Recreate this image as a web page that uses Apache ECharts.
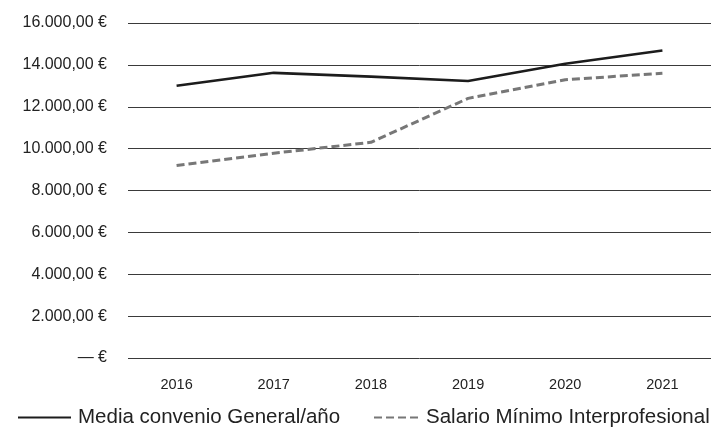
<!DOCTYPE html>
<html><head><meta charset="utf-8">
<script src="https://cdn.jsdelivr.net/npm/echarts@6/dist/echarts.min.js"></script>
<style>html,body{margin:0;padding:0;background:#fff}#c{width:713px;height:433px}</style>
</head><body><div id="c"></div>
<script>
var categories = ['2016','2017','2018','2019','2020','2021'];
var mediaConvenio = [13000, 13620, 13440, 13230, 14050, 14690];
var salarioMinimo = [9190, 9780, 10300, 12400, 13290, 13600];
var yTickValues = [0, 2000, 4000, 6000, 8000, 10000, 12000, 14000, 16000];
var yTickLabels = ['— €', '2.000,00 €', '4.000,00 €', '6.000,00 €', '8.000,00 €', '10.000,00 €', '12.000,00 €', '14.000,00 €', '16.000,00 €'];
var seriesNames = ['Media convenio General/año', 'Salario Mínimo Interprofesional'];

var FONT = '"Liberation Sans", Arial, Helvetica, sans-serif';
var chart = echarts.init(document.getElementById('c'), null, {renderer: 'canvas'});
var legendBase = {top: 402, itemHeight: 14, itemGap: 0,
  itemStyle: {color: 'transparent', borderWidth: 0},
  textStyle: {fontFamily: FONT, fontSize: 20.5, color: '#222', padding: [0, 0, 0, 2]}};
chart.setOption({
  animation: false,
  backgroundColor: '#fff',
  grid: {left: 128, right: 2, top: 23, bottom: 75, containLabel: false},
  legend: [
    Object.assign({}, legendBase, {data: [seriesNames[0]], left: 12, itemWidth: 53}),
    Object.assign({}, legendBase, {data: [seriesNames[1]], left: 368, itemWidth: 45})
  ],
  xAxis: {
    type: 'category', data: categories, boundaryGap: true,
    axisLine: {show: false}, axisTick: {show: false},
    axisLabel: {fontFamily: FONT, fontSize: 14.5, color: '#222', margin: 19}
  },
  yAxis: {
    type: 'value', min: 0, max: 16000, interval: 2000,
    axisLine: {show: false}, axisTick: {show: false},
    splitLine: {lineStyle: {color: '#3a3a3a', width: 1}},
    axisLabel: {fontFamily: FONT, fontSize: 16, color: '#222', margin: 21,
      formatter: function (v) { var i = yTickValues.indexOf(v); return i >= 0 ? yTickLabels[i] : ''; }}
  },
  series: [
    {name: seriesNames[0], type: 'line', data: mediaConvenio, symbol: 'none',
     lineStyle: {color: '#1c1c1c', width: 2.6}, itemStyle: {color: '#1c1c1c'}},
    {name: seriesNames[1], type: 'line', data: salarioMinimo, symbol: 'none',
     lineStyle: {color: '#777777', width: 3, type: [8, 4]}, itemStyle: {color: '#777777'}}
  ]
});
</script></body></html>
